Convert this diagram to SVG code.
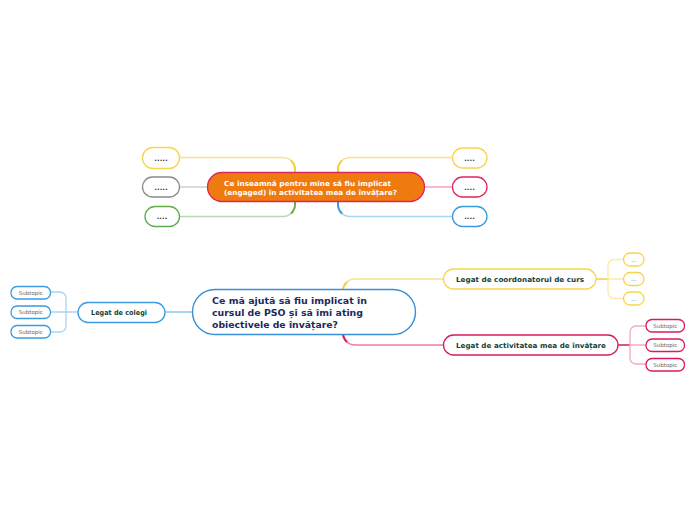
<svg xmlns="http://www.w3.org/2000/svg" width="696" height="520" viewBox="0 0 696 520">
<style>
.c{fill:none;stroke-linecap:round}
.n{fill:#fff;stroke-width:1.3}
.t{font-family:"DejaVu Sans",Verdana,sans-serif;font-weight:bold}
.dots{font-size:7px;fill:#333;text-anchor:middle}
.sub{font-size:5.5px;fill:#666;text-anchor:middle;font-family:"DejaVu Sans",Verdana,sans-serif}
.lg{font-size:7px;fill:#173f35}
</style>
<rect width="696" height="520" fill="#fff"/>
<g id="connectors">
  <path class="c" d="M180,157.5 H283 A12,12 0 0 1 295,169.5 V176" stroke="#fbe08a" stroke-width="1.6"/>
  <path class="c" d="M291.5,161 A12,12 0 0 1 295,169.5 V176" stroke="#f6cf3f" stroke-width="2"/>
  <path class="c" d="M180,187 H210" stroke="#cfcfcf" stroke-width="1.6"/>
  <path class="c" d="M180,216.5 H283 A12,12 0 0 0 295,204.5 V198" stroke="#b7dbb0" stroke-width="1.6"/>
  <path class="c" d="M291.5,213 A12,12 0 0 0 295,204.5 V198" stroke="#6ab04c" stroke-width="2"/>
  <path class="c" d="M452,157.5 H350 A12,12 0 0 0 338,169.5 V176" stroke="#fbe08a" stroke-width="1.6"/>
  <path class="c" d="M341.5,161 A12,12 0 0 0 338,169.5 V176" stroke="#f6cf3f" stroke-width="2"/>
  <path class="c" d="M425,187 H452" stroke="#f5a3bd" stroke-width="1.6"/>
  <path class="c" d="M452,216.5 H350 A12,12 0 0 1 338,204.5 V198" stroke="#a9d5f5" stroke-width="1.6"/>
  <path class="c" d="M341.5,213 A12,12 0 0 1 338,204.5 V198" stroke="#3a9be0" stroke-width="2"/>
  <path class="c" d="M165,312 H196" stroke="#8ec6ef" stroke-width="1.4"/>
  <path class="c" d="M78,312 H51 M51,292 H60 A6,6 0 0 1 66,298 V326 A6,6 0 0 1 60,332 H51" stroke="#a9d5f5" stroke-width="1.3"/>
  <path class="c" d="M443,279 H355 A12,12 0 0 0 343,291 V293" stroke="#fbe08a" stroke-width="1.6"/>
  <path class="c" d="M346.5,282.5 A12,12 0 0 0 343,291 V293" stroke="#f6cf3f" stroke-width="2"/>
  <path class="c" d="M443,345 H355 A12,12 0 0 1 343,333 V331" stroke="#f07ba0" stroke-width="1.6"/>
  <path class="c" d="M346.5,341.5 A12,12 0 0 1 343,333 V331" stroke="#d81b60" stroke-width="2"/>
  <path class="c" d="M596,279 H608" stroke="#f6cf3f" stroke-width="1.3"/>
  <path class="c" d="M623,259.5 H614 A6,6 0 0 0 608,265.5 V292.5 A6,6 0 0 0 614,298.5 H623 M608,279 H623" stroke="#fde9a6" stroke-width="1.3"/>
  <path class="c" d="M618,345 H630" stroke="#d81b60" stroke-width="1.3"/>
  <path class="c" d="M646,326 H636 A6,6 0 0 0 630,332 V358 A6,6 0 0 0 636,364 H646 M630,345 H646" stroke="#f5aac2" stroke-width="1.3"/>
</g>
<g id="top-main">
  <rect x="207.5" y="172.5" width="217" height="29" rx="14.5" fill="#ee7a10" stroke="#e0245e" stroke-width="1.3"/>
  <text class="t" font-size="7" fill="#fff"><tspan x="224" y="186" textLength="167" lengthAdjust="spacingAndGlyphs">Ce înseamnă pentru mine să fiu implicat</tspan><tspan x="224" y="195" textLength="173" lengthAdjust="spacingAndGlyphs">(engaged) în activitatea mea de învățare?</tspan></text>
</g>
<g id="tl1"><rect class="n" x="142.5" y="147.5" width="37" height="21" rx="10.5" stroke="#f8d548"/><text class="t dots" x="161" y="160.5">.....</text></g>
<g id="tl2"><rect class="n" x="142.5" y="177" width="37" height="20" rx="10" stroke="#8c8c8c"/><text class="t dots" x="161" y="189.5">.....</text></g>
<g id="tl3"><rect class="n" x="145" y="206.5" width="34.5" height="20" rx="10" stroke="#5fae4c"/><text class="t dots" x="162" y="219">....</text></g>
<g id="tr1"><rect class="n" x="452.5" y="148" width="34.5" height="20" rx="10" stroke="#f8d548"/><text class="t dots" x="469.5" y="160.5">....</text></g>
<g id="tr2"><rect class="n" x="452.5" y="177" width="34.5" height="20" rx="10" stroke="#e0245e"/><text class="t dots" x="469.5" y="189.5">....</text></g>
<g id="tr3"><rect class="n" x="452.5" y="206.5" width="34.5" height="20" rx="10" stroke="#3a9be0"/><text class="t dots" x="469.5" y="219">....</text></g>
<g id="center">
  <rect x="192.5" y="289.5" width="223" height="45" rx="22.5" fill="#fff" stroke="#3a8fd6" stroke-width="1.4"/>
  <text class="t" font-size="9" fill="#1b2b5c"><tspan x="212" y="304" textLength="155" lengthAdjust="spacingAndGlyphs">Ce mă ajută să fiu implicat în</tspan><tspan x="212" y="316" textLength="151" lengthAdjust="spacingAndGlyphs">cursul de PSO și să îmi ating</tspan><tspan x="212" y="327.5" textLength="126" lengthAdjust="spacingAndGlyphs">obiectivele de învățare?</tspan></text>
</g>
<g id="colegi"><rect class="n" x="78" y="302.5" width="87" height="20" rx="10" stroke="#3a9be0"/><text class="t lg" x="91" y="315" textLength="56" lengthAdjust="spacingAndGlyphs">Legat de colegi</text></g>
<g id="cs1"><rect class="n" x="11" y="286.5" width="39.5" height="12.5" rx="6" stroke="#3a9be0" stroke-width="1"/><text class="sub" x="30.8" y="294.8">Subtopic</text></g>
<g id="cs2"><rect class="n" x="11" y="306" width="39.5" height="12.5" rx="6" stroke="#3a9be0" stroke-width="1"/><text class="sub" x="30.8" y="314.3">Subtopic</text></g>
<g id="cs3"><rect class="n" x="11" y="325.5" width="39.5" height="12.5" rx="6" stroke="#3a9be0" stroke-width="1"/><text class="sub" x="30.8" y="333.8">Subtopic</text></g>
<g id="coord"><rect class="n" x="443.5" y="269" width="152.5" height="20" rx="10" stroke="#f8d548"/><text class="t lg" x="456" y="282" textLength="128" lengthAdjust="spacingAndGlyphs">Legat de coordonatorul de curs</text></g>
<g id="cd1"><rect class="n" x="623.5" y="253" width="20.5" height="13" rx="6.5" stroke="#f8d548" stroke-width="1"/><text class="sub" x="633.8" y="261.5">...</text></g>
<g id="cd2"><rect class="n" x="623.5" y="272.5" width="20.5" height="13" rx="6.5" stroke="#f8d548" stroke-width="1"/><text class="sub" x="633.8" y="281">...</text></g>
<g id="cd3"><rect class="n" x="623.5" y="292" width="20.5" height="13" rx="6.5" stroke="#f8d548" stroke-width="1"/><text class="sub" x="633.8" y="300.5">...</text></g>
<g id="activ"><rect class="n" x="443.5" y="335" width="174.5" height="20" rx="10" stroke="#d81b60"/><text class="t lg" x="456" y="348" textLength="150" lengthAdjust="spacingAndGlyphs">Legat de activitatea mea de învățare</text></g>
<g id="as1"><rect class="n" x="646" y="319.5" width="38.5" height="12.5" rx="6" stroke="#d81b60" stroke-width="1"/><text class="sub" x="665.3" y="327.8">Subtopic</text></g>
<g id="as2"><rect class="n" x="646" y="339" width="38.5" height="12.5" rx="6" stroke="#d81b60" stroke-width="1"/><text class="sub" x="665.3" y="347.3">Subtopic</text></g>
<g id="as3"><rect class="n" x="646" y="358.5" width="38.5" height="12.5" rx="6" stroke="#d81b60" stroke-width="1"/><text class="sub" x="665.3" y="366.8">Subtopic</text></g>
</svg>
